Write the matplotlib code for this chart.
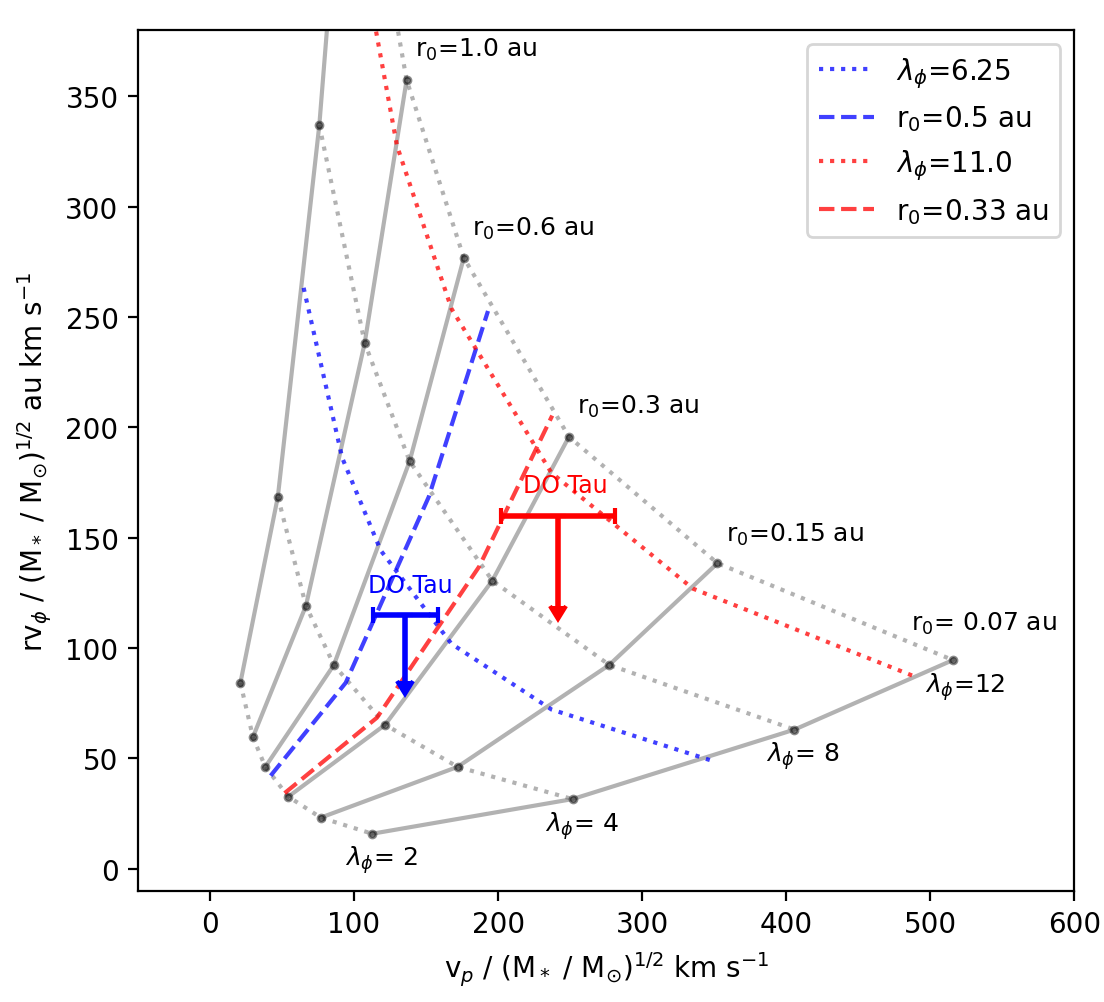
import numpy as np
import matplotlib
matplotlib.use('Agg')
import matplotlib.pyplot as plt

# grid of wind launch points: rows = r0 (au), columns = lambda_phi
r0_vals = [2.0, 1.0, 0.6, 0.3, 0.15, 0.07]
lam_vals = [2, 4, 8, 12]

vp_grid = [[21.1, 47.1, 75.9, 96.5],
           [29.8, 66.6, 107.4, 136.5],
           [38.4, 86.0, 138.6, 176.2],
           [54.4, 121.6, 196.0, 249.2],
           [76.9, 171.9, 277.2, 352.3],
           [112.6, 251.7, 405.8, 515.8]]
rvphi_grid = [[84.2, 168.5, 337.0, 505.4],
              [59.6, 119.1, 238.2, 357.4],
              [46.1, 92.3, 184.6, 276.8],
              [32.6, 65.2, 130.5, 195.7],
              [23.1, 46.1, 92.3, 138.4],
              [15.8, 31.5, 63.0, 94.5]]

# lambda_phi = 6.25 across r0, and r0 = 0.5 au across lambda
vp_lam625 = [65.0, 91.8, 118.5, 167.6, 237.1, 347.0]
rv_lam625 = [263.2, 186.1, 144.2, 101.9, 72.1, 49.2]
vp_r05 = [42.1, 94.2, 151.9, 193.0]
rv_r05 = [42.1, 84.2, 168.5, 252.7]

# lambda_phi = 11.0 across r0, and r0 = 0.33 au across lambda
vp_lam11 = [91.8, 129.8, 167.6, 237.0, 335.2, 490.6]
rv_lam11 = [463.3, 327.6, 253.8, 179.4, 126.9, 86.7]
vp_r033 = [51.8, 115.9, 186.9, 237.6]
rv_r033 = [34.2, 68.4, 136.9, 205.3]

# DO Tau upper limits
dotau_b = dict(x=135.5, y=115, xerr=22.5, yerr=30)
dotau_r = dict(x=241.5, y=160, xerr=39.5, yerr=41)

r0_labels = ['r$_0$=1.0 au', 'r$_0$=0.6 au', 'r$_0$=0.3 au', 'r$_0$=0.15 au', 'r$_0$= 0.07 au']
lam_labels = [r'$\lambda_\phi$= 2', r'$\lambda_\phi$= 4', r'$\lambda_\phi$= 8', r'$\lambda_\phi$=12']

vp = np.array(vp_grid)
rv = np.array(rvphi_grid)

fig = plt.figure(figsize=(5.52, 5.015), dpi=200)
ax = fig.add_axes([0.125, 0.111, 0.848, 0.858])

for i in range(len(r0_vals)):
    ax.plot(vp[i], rv[i], '-', color='gray', alpha=0.6, lw=1.5)
for k in range(len(lam_vals)):
    ax.plot(vp[:, k], rv[:, k], ':', color='gray', alpha=0.6, lw=1.5)
ax.plot(vp.ravel(), rv.ravel(), 'o', color='k', alpha=0.45, ms=2.5)

ax.plot(vp_lam625, rv_lam625, ':', color='b', alpha=0.75, lw=1.5, label=r'$\lambda_\phi$=6.25')
ax.plot(vp_r05, rv_r05, '--', color='b', alpha=0.75, lw=1.5, label='r$_0$=0.5 au')
ax.plot(vp_lam11, rv_lam11, ':', color='r', alpha=0.75, lw=1.5, label=r'$\lambda_\phi$=11.0')
ax.plot(vp_r033, rv_r033, '--', color='r', alpha=0.75, lw=1.5, label='r$_0$=0.33 au')

for d, c in [(dotau_b, 'b'), (dotau_r, 'r')]:
    ax.errorbar(d['x'], d['y'], xerr=d['xerr'], yerr=d['yerr'], uplims=True,
                color=c, lw=2, capsize=3, capthick=1.5)
ax.text(139, 123, 'DO Tau', color='b', fontsize=8.5, ha='center', va='bottom')
ax.text(247, 168.5, 'DO Tau', color='r', fontsize=8.5, ha='center', va='bottom')

# r0 labels along the lambda=12 curve
r0_lab_x = [142.5, 182, 255, 358.5, 487]
r0_lab_y = [371.5, 290.5, 209.5, 151.5, 111.5]
for s, x, y in zip(r0_labels, r0_lab_x, r0_lab_y):
    ax.text(x, y, s, fontsize=9, ha='left', va='center')

lam_lab_x = [94, 232.5, 386, 496.5]
lam_lab_y = [4.5, 19.5, 51.2, 82.5]
for s, x, y in zip(lam_labels, lam_lab_x, lam_lab_y):
    ax.text(x, y, s, fontsize=9, ha='left', va='center')

ax.set_xlim(-50, 600)
ax.set_ylim(-10, 380)
ax.set_xlabel(r'v$_p$ / (M$_*$ / M$_{\odot}$)$^{1/2}$ km s$^{-1}$')
ax.set_ylabel(r'rv$_\phi$ / (M$_*$ / M$_{\odot}$)$^{1/2}$ au km s$^{-1}$')
ax.legend(loc='upper right')

fig.savefig('out.png', dpi=200)
